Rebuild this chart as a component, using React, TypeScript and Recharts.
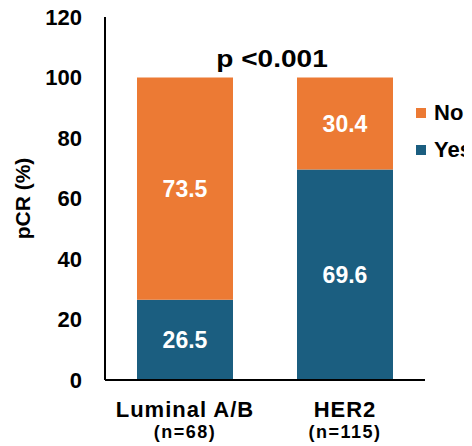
import { BarChart, Bar, XAxis, YAxis, LabelList } from 'recharts';

const categories = ['Luminal A/B', 'HER2'];
const sampleSizes = ['(n=68)', '(n=115)'];
const yesValues = [26.5, 69.6];
const noValues = [73.5, 30.4];
const yTicks = [0, 20, 40, 60, 80, 100, 120];

const BLUE = '#1b5e80';
const ORANGE = '#ec7a34';
const FONT = 'Arial, "Liberation Sans", sans-serif';

const data = categories.map((name, i) => ({
  name,
  n: sampleSizes[i],
  yes: yesValues[i],
  no: noValues[i],
}));

const legendItems = [
  { label: 'No', color: ORANGE },
  { label: 'Yes', color: BLUE },
];

function CategoryTick(props: any) {
  const { x, y, payload } = props;
  const row = data[payload.index];
  return (
    <g>
      <text x={x} y={y + 37} textAnchor="middle" fontSize={22} letterSpacing={1} fontWeight="bold" fill="#000" fontFamily={FONT}>
        {payload.value}
      </text>
      <text x={x} y={y + 58} textAnchor="middle" fontSize={18} letterSpacing={1.5} fontWeight="bold" fill="#000" fontFamily={FONT}>
        {row ? row.n : ''}
      </text>
    </g>
  );
}

export default function App() {
  return (
    <div style={{ position: 'relative', width: 472, height: 446, marginLeft: -8, marginTop: -8, overflow: 'hidden', background: '#fff' }}>
      <BarChart width={472} height={446} data={data} margin={{ top: 17, right: 47, left: 0, bottom: 0 }} barCategoryGap="20%">
        <XAxis
          dataKey="name"
          axisLine={{ stroke: '#000', strokeWidth: 2 }}
          tickLine={false}
          tickSize={0}
          tickMargin={0}
          height={66}
          interval={0}
          tick={<CategoryTick />}
        />
        <YAxis
          domain={[0, 120]}
          ticks={yTicks}
          width={105}
          axisLine={{ stroke: '#000', strokeWidth: 2 }}
          tickLine={false}
          tickSize={0}
          tickMargin={23}
          tick={{ fontSize: 22, fontWeight: 'bold', fill: '#000', fontFamily: FONT }}
          label={{
            value: 'pCR (%)',
            angle: -90,
            position: 'insideLeft',
            dx: 18,
            style: { fontSize: 21, fontWeight: 'bold', fill: '#000', fontFamily: FONT, textAnchor: 'middle' },
          }}
        />
        <Bar dataKey="yes" stackId="a" fill={BLUE} isAnimationActive={false}>
          <LabelList dataKey="yes" position="center" fill="#fff" fontSize={23} fontWeight="bold" fontFamily={FONT} />
        </Bar>
        <Bar dataKey="no" stackId="a" fill={ORANGE} isAnimationActive={false}>
          <LabelList dataKey="no" position="center" fill="#fff" fontSize={23} fontWeight="bold" fontFamily={FONT} />
        </Bar>
      </BarChart>
      <div style={{ position: 'absolute', left: 416, top: 94, fontFamily: FONT }}>
        {legendItems.map((it) => (
          <div key={it.label} style={{ display: 'flex', alignItems: 'center', height: 37, whiteSpace: 'nowrap' }}>
            <span style={{ width: 10, height: 10, background: it.color, display: 'inline-block', marginRight: 8 }} />
            <span style={{ fontSize: 22, fontWeight: 'bold', color: '#000' }}>{it.label}</span>
          </div>
        ))}
      </div>
      <div
        style={{
          position: 'absolute',
          left: 172,
          width: 200,
          top: 46,
          textAlign: 'center',
          fontFamily: FONT,
          fontSize: 23,
          fontWeight: 'bold',
          color: '#000',
          transform: 'scaleX(1.22)',
        }}
      >
        p &lt;0.001
      </div>
    </div>
  );
}
